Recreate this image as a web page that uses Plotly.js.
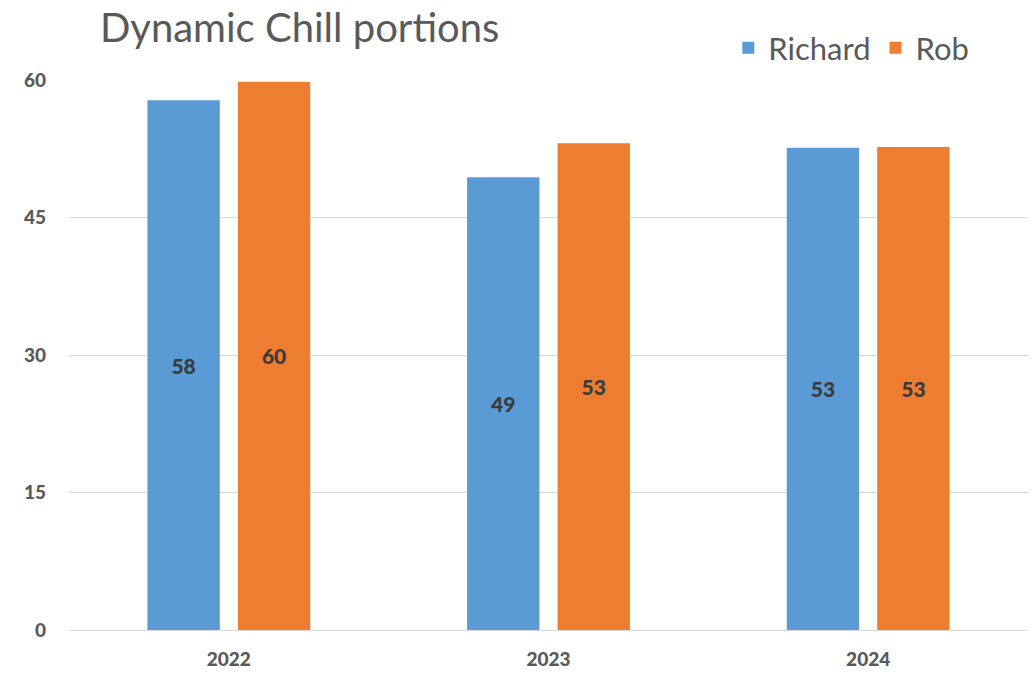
<!DOCTYPE html>
<html><head><meta charset="utf-8">
<script src="https://cdn.plot.ly/plotly-3.0.1.min.js"></script>
<style>html,body{margin:0;padding:0;background:#fff}#chart{width:1036px;height:674px}</style>
</head><body><div id="chart"></div>
<script>
const years = ['2022', '2023', '2024'];
const richard = [57.8, 49.4, 52.6];
const rob = [59.8, 53.1, 52.7];
const richardLabels = ['58', '49', '53'];
const robLabels = ['60', '53', '53'];
const yTicks = [0, 15, 30, 45, 60];

const labelFont = {family: 'Lato, "Open Sans", sans-serif', size: 21, color: '#3a3a3a', weight: 900};
const traces = [
  {type: 'bar', name: 'Richard', x: years, y: richard, text: richardLabels,
   textposition: 'inside', insidetextanchor: 'middle', textangle: 0,
   textfont: labelFont, marker: {color: '#5b9bd5'}, hoverinfo: 'none'},
  {type: 'bar', name: 'Rob', x: years, y: rob, text: robLabels,
   textposition: 'inside', insidetextanchor: 'middle', textangle: 0,
   textfont: labelFont, marker: {color: '#ed7d31'}, hoverinfo: 'none'}
];
const layout = {
  width: 1036, height: 674,
  margin: {l: 69, r: 8, t: 80, b: 44},
  paper_bgcolor: '#fff', plot_bgcolor: '#fff',
  barmode: 'group', bargap: 0.434, bargroupgap: 0.2,
  font: {family: 'Lato, "Open Sans", sans-serif', color: '#595959'},
  title: {text: 'Dynamic Chill portions', x: 100/1036, xanchor: 'left', xref: 'container',
    y: 1 - 28/674, yref: 'container', yanchor: 'middle',
    font: {family: 'Lato, "Open Sans", sans-serif', size: 40, color: '#595959'}},
  xaxis: {type: 'category', showgrid: false, showline: false, zeroline: false,
    ticks: '', ticklabelstandoff: 16,
    tickfont: {size: 19, color: '#595959', weight: 900}},
  yaxis: {range: [0, 60], tickvals: yTicks, ticktext: yTicks.map(String),
    showgrid: true, gridcolor: '#d9d9d9', gridwidth: 1, zeroline: true, zerolinecolor: '#d9d9d9',
    showline: false, ticks: '', ticklabelstandoff: 22,
    tickfont: {size: 19, color: '#595959', weight: 900}},
  showlegend: true,
  legend: {orientation: 'h', x: 978/1036, xanchor: 'right', y: 1 + 32/550, yanchor: 'middle',
    font: {size: 31, color: '#595959'}, itemwidth: 30, traceorder: 'normal', bgcolor: 'rgba(0,0,0,0)'}
};
Plotly.newPlot('chart', traces, layout, {displayModeBar: false, staticPlot: true});
</script></body></html>
